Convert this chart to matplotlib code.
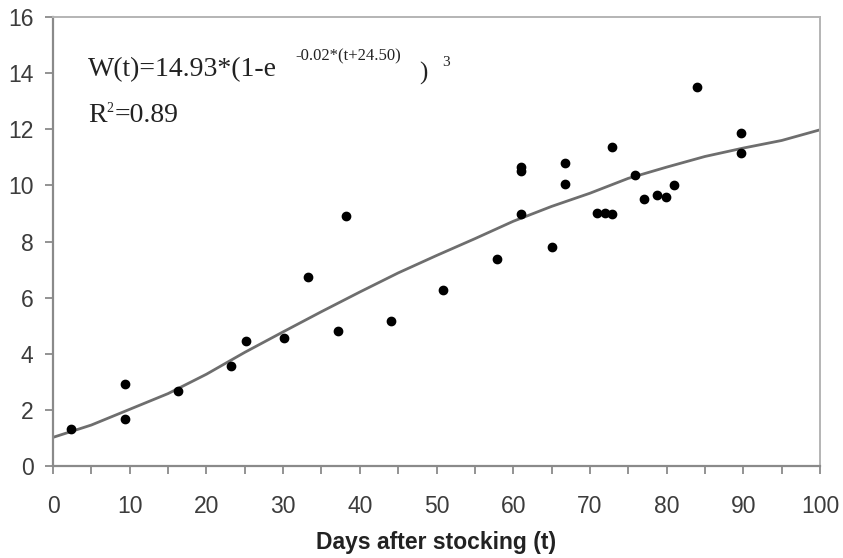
import matplotlib
matplotlib.use("Agg")
import matplotlib.pyplot as plt

# observed weights (g) against days after stocking
days = [2.3, 9.4, 9.4, 16.3, 23.2, 25.2, 30.1, 33.3, 37.1, 38.2, 44.1, 50.9,
        57.9, 61.0, 61.0, 61.0, 65.1, 66.8, 66.8, 70.9, 72.0, 72.9, 72.9,
        75.9, 77.0, 78.8, 79.9, 81.0, 83.9, 89.7, 89.7]
weight = [1.32, 2.91, 1.68, 2.68, 3.58, 4.45, 4.57, 6.75, 4.80, 8.91, 5.18,
          6.27, 7.38, 10.65, 10.50, 8.99, 7.81, 10.81, 10.06, 9.03, 9.03,
          11.35, 8.97, 10.37, 9.53, 9.65, 9.59, 10.00, 13.50, 11.85, 11.16]

# fitted growth curve
curve_t = [0, 5, 10, 15, 20, 25, 30, 35, 40, 45, 50, 55, 60, 65, 70, 75,
           80, 85, 90, 95, 100]
curve_w = [1.02, 1.46, 2.02, 2.58, 3.27, 4.05, 4.78, 5.50, 6.20, 6.88, 7.50,
           8.10, 8.72, 9.25, 9.72, 10.25, 10.65, 11.03, 11.33, 11.60, 11.98]

x_ticks = list(range(0, 101, 10))
y_ticks = list(range(0, 17, 2))

fig = plt.figure(figsize=(8.43, 5.58), dpi=100)
ax = fig.add_axes([0.0629, 0.1649, 0.9098, 0.8046])

ax.plot(curve_t, curve_w, color="#6e6e6e", linewidth=2.0, zorder=2)
ax.plot(days, weight, "o", color="black", markersize=6, zorder=3)

ax.set_xlim(0, 100)
ax.set_ylim(0, 16)
ax.set_xticks(x_ticks)
ax.set_xticks(range(5, 100, 10), minor=True)
ax.set_yticks(y_ticks)

for side in ["left", "bottom"]:
    ax.spines[side].set_color("#8a8a8a")
    ax.spines[side].set_linewidth(1.6)
for side in ["top", "right"]:
    ax.spines[side].set_color("#b4b4b4")
    ax.spines[side].set_linewidth(1.4)

ax.tick_params(axis="both", which="both", direction="out", length=6,
               width=1.3, color="#8a8a8a", labelcolor="#3c3c3c",
               labelsize=16.5)
ax.tick_params(axis="x", pad=15)
ax.tick_params(axis="y", pad=8)
for lab in ax.get_xticklabels() + ax.get_yticklabels():
    lab.set_family("Liberation Sans")

ax.set_xlabel("Days after stocking (t)", fontsize=16.5, fontweight="bold",
              family="Liberation Sans", color="#222222", labelpad=9)

serif = "Liberation Serif"
ink = "#222222"
ax.text(4.55, 13.91, "W(t)=14.93*(1-e", family=serif, fontsize=20,
        va="baseline", color=ink)
ax.text(31.55, 14.45, "-0.02*(t+24.50)", family=serif, fontsize=12,
        va="baseline", color=ink)
ax.text(47.8, 13.78, ")", family=serif, fontsize=18, va="baseline", color=ink)
ax.text(50.7, 14.27, "3", family=serif, fontsize=11, va="baseline", color=ink)
ax.text(4.55, 12.25, "R", family=serif, fontsize=20, va="baseline", color=ink)
ax.text(7.0, 12.6, "2", family=serif, fontsize=10, va="baseline", color=ink)
ax.text(8.0, 12.25, "=0.89", family=serif, fontsize=20, va="baseline",
        color=ink)

fig.savefig("out.png", dpi=100)
